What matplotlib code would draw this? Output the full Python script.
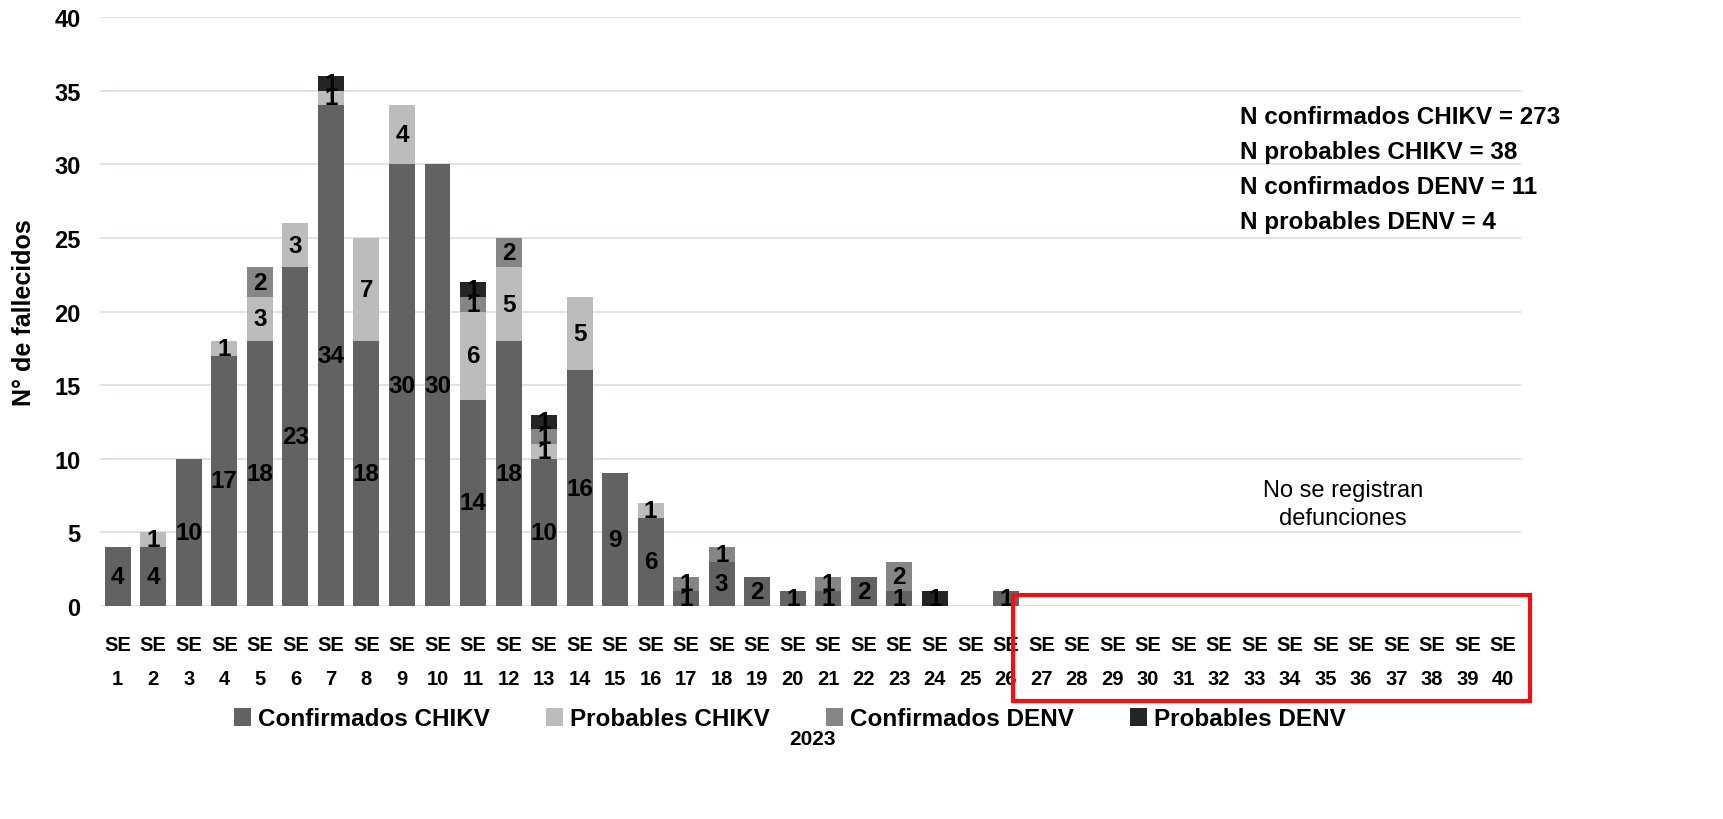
import matplotlib
matplotlib.use("Agg")
import matplotlib.pyplot as plt
from matplotlib.patches import Rectangle
import numpy as np

semanas = [f"SE\n{i}" for i in range(1, 41)]

conf_chikv = [4, 4, 10, 17, 18, 23, 34, 18, 30, 30, 14, 18, 10, 16, 9, 6,
              1, 3, 2, 1, 1, 2, 1, 0, 0, 1] + [0] * 14
prob_chikv = [0, 1, 0, 1, 3, 3, 1, 7, 4, 0, 6, 5, 1, 5, 0, 1,
              0, 0, 0, 0, 0, 0, 0, 0, 0, 0] + [0] * 14
conf_denv = [0, 0, 0, 0, 2, 0, 0, 0, 0, 0, 1, 2, 1, 0, 0, 0,
             1, 1, 0, 0, 1, 0, 2, 0, 0, 0] + [0] * 14
prob_denv = [0, 0, 0, 0, 0, 0, 1, 0, 0, 0, 1, 0, 1, 0, 0, 0,
             0, 0, 0, 0, 0, 0, 0, 1, 0, 0] + [0] * 14

series = [
    ("Confirmados CHIKV", conf_chikv, "#626262"),
    ("Probables CHIKV", prob_chikv, "#bcbcbc"),
    ("Confirmados DENV", conf_denv, "#868686"),
    ("Probables DENV", prob_denv, "#252525"),
]

resumen = ["N confirmados CHIKV = 273", "N probables CHIKV = 38",
           "N confirmados DENV = 11", "N probables DENV = 4"]

plt.rcParams['font.family'] = ['Liberation Sans', 'DejaVu Sans']

fig = plt.figure(figsize=(17.23, 8.2), dpi=100)

ax = fig.add_axes([100 / 1723, 1 - 607 / 820, 1421 / 1723, 589 / 820])

x = np.arange(len(semanas))
bottom = np.zeros(len(semanas))
for nombre, vals, color in series:
    vals = np.array(vals)
    bars = ax.bar(x, vals, 0.73, bottom=bottom, color=color, label=nombre, zorder=3)
    labels = [str(v) if v > 0 else "" for v in vals]
    ax.bar_label(bars, labels=labels, label_type='center', fontsize=17.5,
                 fontweight='bold', color='black', zorder=4)
    bottom += vals

ax.set_xlim(-0.5, 39.5)
ax.set_ylim(0, 40)
ax.set_yticks(range(0, 41, 5))
ax.set_xticks(x)
ax.set_xticklabels(semanas, fontsize=14.5, fontweight='bold', linespacing=2.0)
ax.tick_params(axis='x', length=0, pad=21)
ax.tick_params(axis='y', length=0, pad=14, labelsize=17)
for t in ax.get_yticklabels():
    t.set_fontweight('bold')
ax.grid(axis='y', color='#d9dde6', linewidth=1.2, zorder=0)
for s in ax.spines.values():
    s.set_visible(False)

ax.set_ylabel("N° de fallecidos", fontsize=18, fontweight='bold')
ax.yaxis.set_label_coords(-0.045, 0.5)

fig.legend(loc='center', bbox_to_anchor=(790 / 1723, 1 - 720 / 820), ncol=4,
           frameon=False, handlelength=0.7, handleheight=0.7,
           columnspacing=2.3, handletextpad=0.3, prop={'weight': 'bold', 'size': 17.5})
fig.text(812 / 1723, 1 - 740 / 820, "2023", fontsize=15, fontweight='bold',
         ha='center', va='center')

y0 = 1 - 118 / 820
for i, linea in enumerate(resumen):
    fig.text(1240 / 1723, y0 - i * 35 / 820, linea, fontsize=17.5, fontweight='bold',
             ha='left', va='center')

fig.text(1343 / 1723, 1 - 505 / 820, "No se registran\ndefunciones", fontsize=17,
         ha='center', va='center', linespacing=1.3)

fig.patches.append(Rectangle((1013 / 1723, 1 - 702 / 820), 517 / 1723, 106 / 820,
                             transform=fig.transFigure, fill=False,
                             edgecolor='#ee1111', linewidth=3, zorder=5))

fig.savefig("out.png", dpi=100)
